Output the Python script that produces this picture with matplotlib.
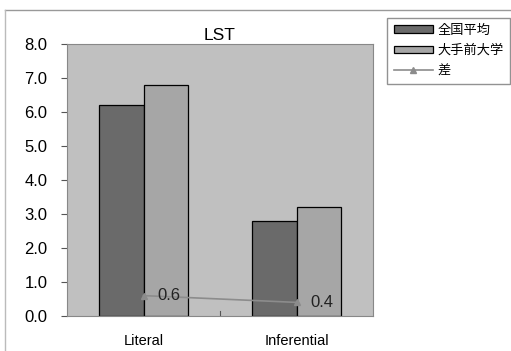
import matplotlib.pyplot as plt
import numpy as np
from matplotlib.lines import Line2D

plt.rcParams['font.family'] = ['Liberation Sans', 'Noto Sans CJK JP', 'DejaVu Sans']

categories = ['Literal', 'Inferential']
national_avg = [6.2, 2.8]
otemae = [6.8, 3.2]
diff = [0.6, 0.4]
series_names = ['全国平均', '大手前大学', '差']

fig = plt.figure(figsize=(5.11, 3.51), dpi=100)
ax = fig.add_axes([67 / 511, 35 / 351, 306 / 511, 272 / 351])
ax.set_facecolor('#c0c0c0')

x = np.arange(len(categories))
w = 0.29
b1 = ax.bar(x - w / 2, national_avg, w, color='#6a6a6a', edgecolor='black', linewidth=0.9, label=series_names[0])
b2 = ax.bar(x + w / 2, otemae, w, color='#a6a6a6', edgecolor='black', linewidth=0.9, label=series_names[1])
ln, = ax.plot(x, diff, color='#8c8c8c', marker='^', markersize=5, linewidth=1.2, label=series_names[2])
for xi, d in zip(x, diff):
    ax.text(xi + 0.09, d, f'{d:.1f}', fontsize=12, va='center', ha='left', color='#222222')

ax.set_xlim(-0.5, 1.5)
ax.set_ylim(0, 8)
ax.set_yticks(np.arange(0, 8.1, 1.0))
ax.set_yticklabels([f'{v:.1f}' for v in np.arange(0, 8.1, 1.0)], fontsize=12)
ax.set_xticks(x)
ax.set_xticklabels(categories, fontsize=10.5)
ax.tick_params(axis='x', length=0, pad=13)
ax.tick_params(axis='y', length=4, direction='out', pad=10, color='#555555')
# category divider tick
ax.plot([0.5, 0.5], [0, 0.15], color='#555555', linewidth=0.8)
for s in ax.spines.values():
    s.set_color('#888888')
    s.set_linewidth(0.8)
ax.set_title('LST', fontsize=12.5, pad=3)

fig.legend(handles=[b1, b2, ln], loc='upper left', bbox_to_anchor=(387 / 511, 1 - 18 / 351),
           fontsize=9.5, frameon=True, fancybox=False, edgecolor='#777777', handlelength=3.0,
           handleheight=0.45, borderpad=0.5, labelspacing=0.6, handletextpad=0.3,
           borderaxespad=0)

# outer frame
fig.add_artist(Line2D([5 / 511, 1], [1 - 10 / 351, 1 - 10 / 351], color='#999999', linewidth=1))
fig.add_artist(Line2D([5 / 511, 5 / 511], [0, 1 - 10 / 351], color='#bbbbbb', linewidth=1))

fig.savefig('out.png', dpi=100)
